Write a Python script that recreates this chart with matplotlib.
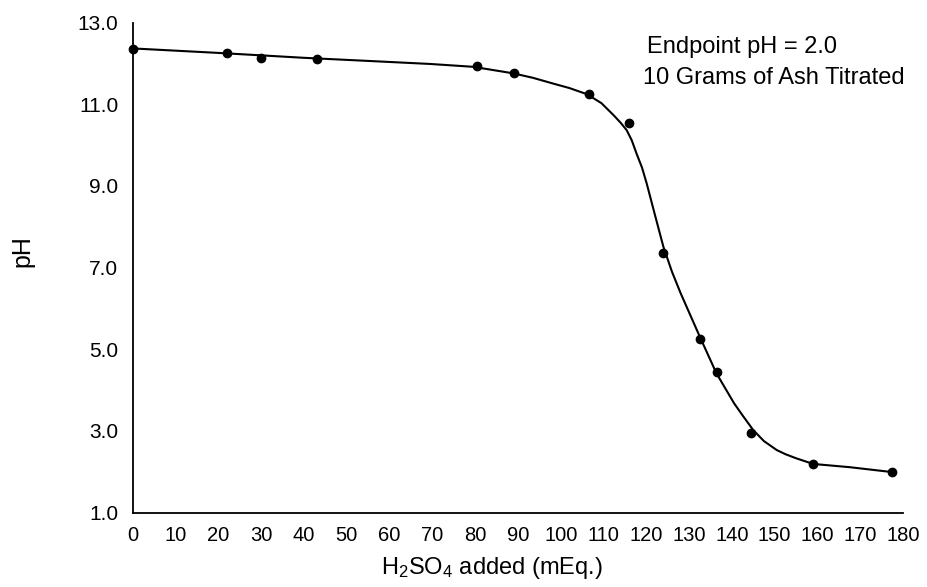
import matplotlib
matplotlib.use("Agg")
import matplotlib.pyplot as plt

plt.rcParams['font.family'] = ['Liberation Sans', 'DejaVu Sans']
plt.rcParams['mathtext.default'] = 'regular'

# measured titration points
acid_meq = [0, 22, 30, 43, 80.5, 89, 106.5, 116, 124, 132.5, 136.5, 144.5, 159, 177.5]
ph_meas = [12.35, 12.25, 12.14, 12.10, 11.95, 11.76, 11.25, 10.55, 7.35, 5.24, 4.45, 2.94, 2.18, 1.99]

# hand-drawn fit curve
curve_x = [0, 20, 40, 57.7, 69.4, 79.5, 88.9, 93.5, 98.2, 102, 106.1, 109.5, 112.3, 114,
           115.4, 116.6, 117.7, 119, 120.1, 122, 124.0, 126, 128, 132.5, 136.4, 140.5,
           142.5, 145.0, 147.5, 150.5, 152.5, 155, 159.0, 167.6, 177.5]
curve_y = [12.37, 12.26, 12.14, 12.05, 11.99, 11.92, 11.76, 11.65, 11.51, 11.40, 11.25, 11.03,
           10.74, 10.55, 10.37, 10.12, 9.80, 9.45, 9.06, 8.30, 7.51, 6.90, 6.38, 5.31, 4.41,
           3.68, 3.38, 3.02, 2.75, 2.53, 2.43, 2.33, 2.19, 2.11, 1.99]

x_ticks = list(range(0, 190, 10))
y_ticks = [1, 3, 5, 7, 9, 11, 13]

fig = plt.figure(figsize=(9.28, 5.87), dpi=100)
ax = fig.add_axes([0.1433, 0.1269, 0.8297, 0.8344])

ax.plot(curve_x, curve_y, color='black', lw=1.5)
ax.plot(acid_meq, ph_meas, 'o', color='black', ms=6, clip_on=False)

ax.set_xlim(0, 180)
ax.set_ylim(1, 13)
ax.set_xticks(x_ticks)
ax.set_xticklabels([str(v) for v in x_ticks])
ax.set_yticks(y_ticks)
ax.set_yticklabels([f"{v:.1f}" for v in y_ticks])

for s in ['top', 'right']:
    ax.spines[s].set_visible(False)
for s in ['left', 'bottom']:
    ax.spines[s].set_linewidth(1.3)

ax.tick_params(axis='x', length=0, pad=9.5, labelsize=14.5)
ax.tick_params(axis='y', length=0, pad=10.5, labelsize=15)

ax.set_xlabel(r"H$_2$SO$_4$ added (mEq.)", fontsize=17)
ax.xaxis.set_label_coords(0.466, -0.087)
ax.set_ylabel("pH", fontsize=18)
ax.yaxis.set_label_coords(-0.1435, 0.533)
ax.yaxis.label.set_verticalalignment('center')

ax.text(120.2, 12.26, "Endpoint pH = 2.0", fontsize=17, va='baseline', ha='left')
ax.text(119.2, 11.51, "10 Grams of Ash Titrated", fontsize=17, va='baseline', ha='left')

fig.savefig("out.png", dpi=100)
